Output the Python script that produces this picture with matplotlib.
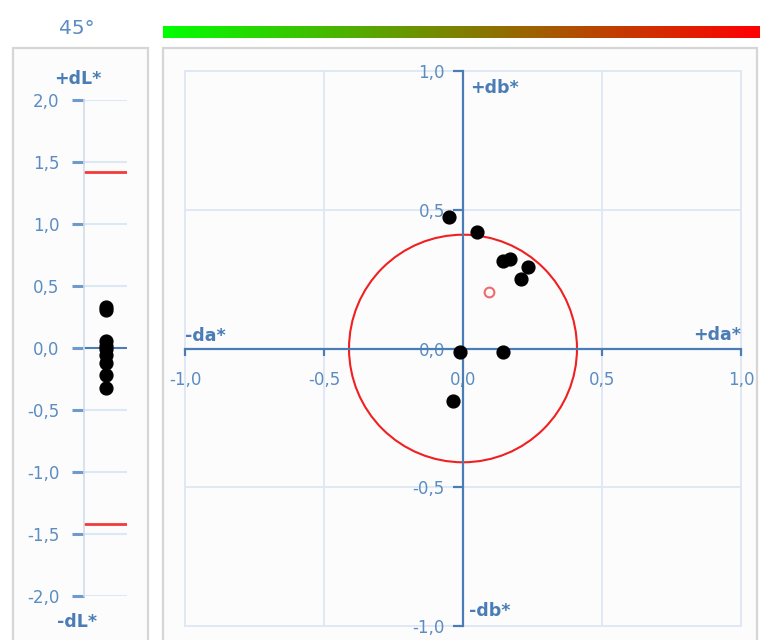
import numpy as np
import matplotlib
matplotlib.use("Agg")
import matplotlib.pyplot as plt
from matplotlib.colors import LinearSegmentedColormap
from matplotlib.patches import Rectangle, Circle
from matplotlib.ticker import FuncFormatter, FixedLocator

plt.rcParams["font.family"] = ["DejaVu Sans"]

# Measurement geometry
angle_label = "45°"

# dL* values for each measurement
dL = [0.33, 0.31, 0.06, 0.02, -0.01, -0.06, -0.12, -0.22, -0.32]
dL_tol = 1.42

# da*/db* values for each measurement
da = [-0.05, 0.05, 0.145, 0.17, 0.235, 0.21, -0.01, 0.145, -0.035]
db = [0.475, 0.42, 0.315, 0.322, 0.295, 0.252, -0.012, -0.012, -0.19]
ref_da, ref_db = 0.095, 0.205
tol_radius = 0.41

dL_ticks = [-2.0, -1.5, -1.0, -0.5, 0.0, 0.5, 1.0, 1.5, 2.0]
ab_ticks = [-1.0, -0.5, 0.0, 0.5, 1.0]

W, H = 768, 640
AXIS = "#4a7db5"
TICKTXT = "#5b8cc2"
GRID = "#dde8f2"
FRAME = "#d6d6d6"
BG = "#fcfcfd"


def px(x, y, w, h):
    return [x / W, 1 - (y + h) / H, w / W, h / H]


def comma(v, pos=None):
    return f"{v:.1f}".replace(".", ",")


fig = plt.figure(figsize=(W / 100, H / 100), dpi=100)
fig.patch.set_facecolor("white")

# panel frames
for x0, x1 in [(13, 148), (163, 757)]:
    fig.patches.append(Rectangle((x0 / W, -0.05), (x1 - x0) / W, 1 - 48 / H + 0.05,
                                 transform=fig.transFigure, facecolor=BG,
                                 edgecolor=FRAME, lw=1.6, zorder=-5))

fig.text(77 / W, 1 - 28 / H, angle_label, ha="center", va="center",
         fontsize=14.5, color=TICKTXT)

# colour scale bar
cbar_ax = fig.add_axes(px(163, 26, 597, 12))
cmap = LinearSegmentedColormap.from_list("gr", ["#00ff00", "#ff0000"])
cbar_ax.imshow(np.linspace(0, 1, 256)[None, :], aspect="auto", cmap=cmap)
cbar_ax.set_axis_off()

# dL* panel
axL = fig.add_axes(px(84, 100, 43, 496))
axL.set_xlim(0, 1)
axL.set_ylim(-2, 2)
axL.patch.set_alpha(0)
for s in ["top", "right", "bottom"]:
    axL.spines[s].set_visible(False)
axL.spines["left"].set_color("#cfdeec")
axL.spines["left"].set_linewidth(1.2)
axL.set_xticks([])
axL.yaxis.set_major_locator(FixedLocator(dL_ticks))
axL.yaxis.set_major_formatter(FuncFormatter(comma))
axL.tick_params(axis="y", direction="out", length=8.5, width=2.2, color="#6f9acb",
                labelcolor=TICKTXT, labelsize=12, pad=9)
for t in dL_ticks:
    axL.axhline(t, color=GRID if t != 0 else AXIS, lw=1.5, zorder=1)
axL.axhline(dL_tol, color="#f23a3a", lw=2, zorder=2)
axL.axhline(-dL_tol, color="#f23a3a", lw=2, zorder=2)
axL.scatter(np.full(len(dL), 0.52), dL, s=85, color="black", zorder=3, clip_on=False)
fig.text(78 / W, 1 - 79 / H, "+dL*", ha="center", va="center",
         fontsize=12.5, fontweight="bold", color=AXIS)
fig.text(77 / W, 1 - 622 / H, "-dL*", ha="center", va="center",
         fontsize=12.5, fontweight="bold", color=AXIS)

# da*/db* panel
ax = fig.add_axes(px(185, 71, 556, 555))
ax.set_xlim(-1, 1)
ax.set_ylim(-1, 1)
ax.patch.set_alpha(0)
ax.spines["left"].set_position("zero")
ax.spines["bottom"].set_position("zero")
ax.spines["top"].set_visible(False)
ax.spines["right"].set_visible(False)
for s in ["left", "bottom"]:
    ax.spines[s].set_color(AXIS)
    ax.spines[s].set_linewidth(1.6)
ax.xaxis.set_major_locator(FixedLocator(ab_ticks))
ax.yaxis.set_major_locator(FixedLocator(ab_ticks))
ax.xaxis.set_major_formatter(FuncFormatter(comma))
ax.yaxis.set_major_formatter(FuncFormatter(comma))
ax.tick_params(axis="x", direction="out", length=5, width=1.6, color=AXIS,
               labelcolor=TICKTXT, labelsize=12, pad=11)
ax.tick_params(axis="y", direction="out", length=7, width=1.6, color=AXIS,
               labelcolor=TICKTXT, labelsize=12, pad=6)
for t in ab_ticks:
    ax.axhline(t, color=GRID, lw=1.3, zorder=0, clip_on=False)
    ax.axvline(t, color=GRID, lw=1.3, zorder=0, clip_on=False)

ax.add_patch(Circle((0, 0), tol_radius, fill=False, edgecolor="#f02020", lw=1.5, zorder=2))
ax.scatter(da, db, s=85, color="black", zorder=3)
ax.plot([ref_da], [ref_db], "o", ms=7, mfc="none", mec="#f06a6a", mew=1.5, zorder=3)

ax.text(0.025, 0.94, "+db*", ha="left", va="center", fontsize=12.5,
        fontweight="bold", color=AXIS)
ax.text(0.02, -0.945, "-db*", ha="left", va="center", fontsize=12.5,
        fontweight="bold", color=AXIS)
ax.text(-1.0, 0.045, "-da*", ha="left", va="center", fontsize=12.5,
        fontweight="bold", color=AXIS)
ax.text(1.0, 0.05, "+da*", ha="right", va="center", fontsize=12.5,
        fontweight="bold", color=AXIS)

fig.savefig("out.png", dpi=100)
